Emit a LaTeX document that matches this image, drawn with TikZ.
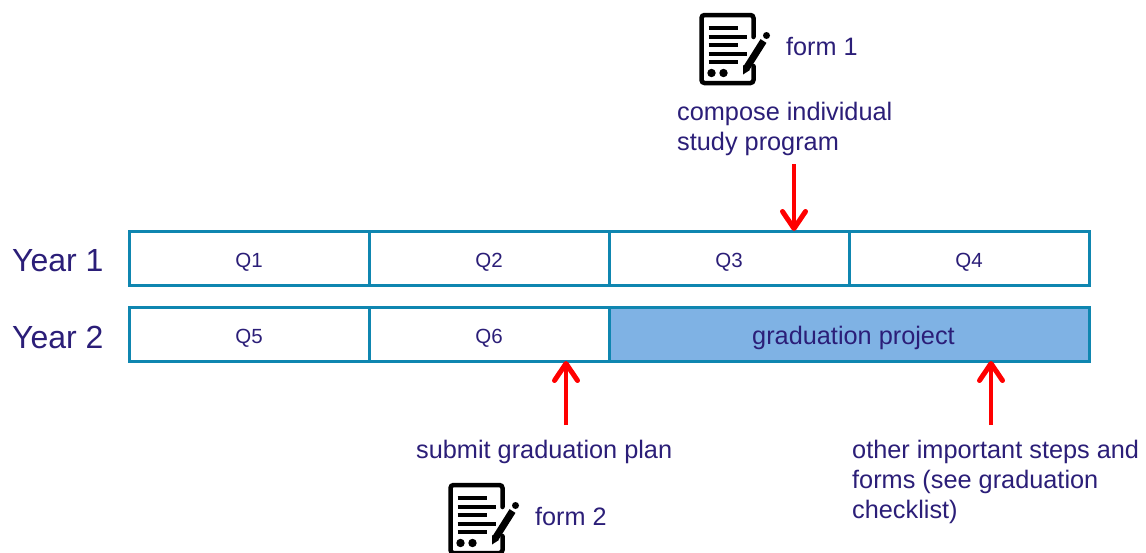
\documentclass[tikz,border=0pt]{standalone}
\usepackage{fontspec}
\setmainfont{Liberation Sans}
\usetikzlibrary{arrows.meta}
\definecolor{txt}{HTML}{2B1E78}
\definecolor{edge}{HTML}{0F86B0}
\definecolor{proj}{HTML}{7FB2E4}
\tikzset{
  x=1pt,y=-1pt,
  quarter/.style={draw=edge,line width=3pt,fill=white,minimum height=54pt,minimum width=240pt,inner sep=0pt,outer sep=0pt,text=txt,text height=18.6pt,text depth=0pt,font=\fontsize{20.5}{24}\selectfont},
  project/.style={quarter,fill=proj,minimum width=480pt,text height=20pt,font=\fontsize{25.3}{30}\selectfont},
  yearlabel/.style={anchor=west,inner sep=0pt,text=txt,font=\fontsize{32}{36}\selectfont},
  label/.style={anchor=north west,inner sep=0pt,text=txt,align=left,font=\fontsize{25.3}{30}\selectfont},
  formlabel/.style={anchor=west,inner sep=0pt,text=txt,font=\fontsize{25.2}{30}\selectfont},
  flag/.style={draw=red,line width=4.5pt,-{Straight Barb[length=17pt,width=23pt,line width=5pt,round]}},
  formicon/.pic={
    \draw[black,line width=4.5pt,rounded corners=3pt,line cap=round] (54,24) -- (54,2) -- (2,2) -- (2,70) -- (54,70) -- (54,53);
    \foreach \yy/\xx in {15/38,24/47,32/38,41/47,49/38}
      \draw[black,line width=3.8pt] (9,\yy) -- (\xx,\yy);
    \fill[black] (12,60) circle (4.2pt) (24,60) circle (4.2pt);
    \draw[black,line width=7pt] (64,28) -- (47,55);
    \fill[black] (43.5,61.5) -- (43.5,52) -- (50.5,57) -- cycle;
    \fill[black] (67,22.5) circle (3.5pt);
  }
}
\begin{document}
\begin{tikzpicture}
\clip (0,0) rectangle (1146,552);
\fill[white] (0,0) rectangle (1146,552);
\node[quarter] (q1) at (249.5,258) {\hspace{-1pt}Q1};
\node[quarter] (q2) at (489.5,258) {\hspace{-1pt}Q2};
\node[quarter] (q3) at (729.5,258) {\hspace{-1pt}Q3};
\node[quarter] (q4) at (969.5,258) {\hspace{-1pt}Q4};
\node[quarter] (q5) at (249.5,334) {\hspace{-1pt}Q5};
\node[quarter] (q6) at (489.5,334) {\hspace{-1pt}Q6};
\node[project] (gp) at (849.5,334) {\hspace{8pt}graduation project};
\node[yearlabel] (y1) at (12,261) {Year 1};
\node[yearlabel] (y2) at (12,337) {Year 2};
\pic (icon1) at (699.5,13) {formicon};
\pic (icon2) at (448.5,483) {formicon};
\node[formlabel] (f1) at (786,47) {form 1};
\node[formlabel] (f2) at (535,516) {form 2};
\node[label] (compose) at (677,102) {compose individual\\study program};
\node[label] (submit) at (416,440) {submit graduation plan};
\node[label] (other) at (852,440) {other important steps and\\forms (see graduation\\checklist)};
\coordinate (a1) at (794,164);
\coordinate (a2) at (566,425);
\coordinate (a3) at (991,425);
\draw[flag] (a1) -- (a1 |- q3.north);
\draw[flag] (a2) -- (a2 |- q6.south);
\draw[flag] (a3) -- (a3 |- gp.south);
\end{tikzpicture}
\end{document}
